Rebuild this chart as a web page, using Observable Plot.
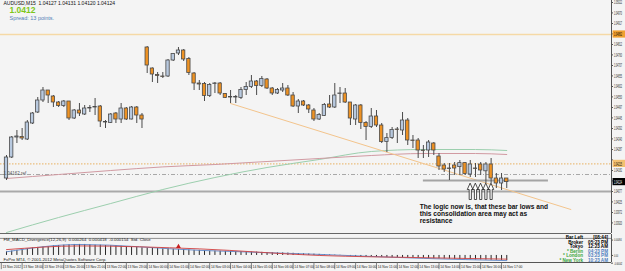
<!DOCTYPE html>
<html><head><meta charset="utf-8">
<script src="https://cdn.jsdelivr.net/npm/d3@7"></script>
<script src="https://cdn.jsdelivr.net/npm/@observablehq/plot@0.6"></script>
<style>
body{margin:0;background:#fff;}
#wrap{position:relative;width:625px;height:271px;overflow:hidden;background:#f4f4f4;font-family:"Liberation Sans",Arial,sans-serif;}
.layer{position:absolute;left:0;}
.clock{position:absolute;font-size:4.6px;line-height:4.6px;text-align:right;white-space:pre;font-weight:bold;}
</style></head><body><div id="wrap"></div>
<script>
// ---- OHLC data, AUDUSD M15, bars 0..96 (13 Nov 17:15 .. 14 Nov 17:15)
const opens  = [1.04142,1.04247,1.04347,1.04350,1.04337,1.04417,1.04472,1.04532,1.04582,1.04552,1.04522,1.04505,1.04527,1.04442,1.04482,1.04462,1.04492,1.04497,1.04502,1.04425,1.04420,1.04467,1.04437,1.04492,1.04437,1.04497,1.04457,1.04797,1.04692,1.04660,1.04652,1.04652,1.04732,1.04767,1.04782,1.04740,1.04667,1.04617,1.04615,1.04555,1.04615,1.04617,1.04565,1.04550,1.04547,1.04545,1.04585,1.04600,1.04627,1.04605,1.04637,1.04592,1.04567,1.04582,1.04592,1.04557,1.04502,1.04527,1.04507,1.04482,1.04437,1.04455,1.04512,1.04497,1.04565,1.04567,1.04522,1.04437,1.04507,1.04420,1.04400,1.04452,1.04407,1.04325,1.04345,1.04387,1.04382,1.04432,1.04332,1.04332,1.04282,1.04282,1.04317,1.04252,1.04207,1.04192,1.04207,1.04199,1.04219,1.04162,1.04192,1.04212,1.04178,1.04212,1.04142,1.04117,1.04142];
const highs  = [1.04257,1.04352,1.04382,1.04392,1.04432,1.04472,1.04547,1.04597,1.04582,1.04557,1.04527,1.04532,1.04527,1.04487,1.04517,1.04507,1.04507,1.04542,1.04507,1.04432,1.04467,1.04472,1.04517,1.04497,1.04502,1.04502,1.04467,1.04802,1.04695,1.04672,1.04672,1.04737,1.04767,1.04797,1.04787,1.04747,1.04672,1.04632,1.04622,1.04617,1.04622,1.04622,1.04567,1.04582,1.04557,1.04597,1.04622,1.04657,1.04632,1.04652,1.04642,1.04597,1.04592,1.04617,1.04607,1.04572,1.04537,1.04532,1.04512,1.04492,1.04467,1.04517,1.04557,1.04617,1.04597,1.04592,1.04522,1.04512,1.04512,1.04427,1.04492,1.04482,1.04417,1.04367,1.04397,1.04397,1.04472,1.04442,1.04357,1.04342,1.04307,1.04332,1.04322,1.04267,1.04217,1.04217,1.04222,1.04232,1.04222,1.04232,1.04217,1.04222,1.04222,1.04242,1.04167,1.04167,1.04142];
const lows   = [1.04132,1.04242,1.04317,1.04332,1.04332,1.04412,1.04467,1.04522,1.04517,1.04497,1.04497,1.04497,1.04432,1.04437,1.04452,1.04457,1.04472,1.04457,1.04397,1.04392,1.04417,1.04417,1.04417,1.04432,1.04435,1.04417,1.04392,1.04667,1.04622,1.04617,1.04642,1.04647,1.04727,1.04757,1.04727,1.04657,1.04582,1.04582,1.04527,1.04547,1.04567,1.04557,1.04542,1.04517,1.04517,1.04537,1.04557,1.04592,1.04557,1.04597,1.04587,1.04557,1.04562,1.04572,1.04552,1.04497,1.04467,1.04502,1.04467,1.04427,1.04432,1.04452,1.04492,1.04492,1.04517,1.04517,1.04407,1.04407,1.04387,1.04332,1.04392,1.04397,1.04317,1.04272,1.04337,1.04317,1.04357,1.04307,1.04292,1.04242,1.04242,1.04247,1.04257,1.04182,1.04172,1.04132,1.04157,1.04157,1.04157,1.04147,1.04147,1.04157,1.04117,1.04117,1.04092,1.04082,1.04092];
const closes = [1.04247,1.04347,1.04352,1.04342,1.04422,1.04467,1.04532,1.04582,1.04557,1.04522,1.04505,1.04527,1.04442,1.04482,1.04467,1.04492,1.04495,1.04500,1.04427,1.04422,1.04462,1.04437,1.04492,1.04437,1.04497,1.04457,1.04437,1.04707,1.04662,1.04655,1.04650,1.04732,1.04765,1.04782,1.04737,1.04670,1.04617,1.04612,1.04555,1.04610,1.04617,1.04567,1.04545,1.04547,1.04550,1.04585,1.04600,1.04627,1.04605,1.04640,1.04592,1.04567,1.04585,1.04592,1.04557,1.04502,1.04527,1.04507,1.04487,1.04437,1.04460,1.04510,1.04497,1.04557,1.04567,1.04522,1.04442,1.04507,1.04420,1.04400,1.04452,1.04407,1.04325,1.04344,1.04385,1.04385,1.04432,1.04332,1.04330,1.04282,1.04280,1.04322,1.04282,1.04202,1.04187,1.04190,1.04192,1.04219,1.04165,1.04212,1.04190,1.04182,1.04212,1.04142,1.04117,1.04142,1.04124];

// moving averages read at sample bars
const maGreenBars = [0,10,20,30,40,50,60,70,80,90,96];
const maGreen     = [1.03872,1.03947,1.04017,1.04087,1.04147,1.04197,1.04237,1.04277,1.04287,1.04287,1.04282];
const maPinkBars  = [0,10,20,30,40,50,60,70,80,90,96];
const maPink      = [1.04142,1.04162,1.04182,1.04200,1.04212,1.04227,1.04242,1.04257,1.04267,1.04267,1.04262];

// horizontal levels / objects
const levelOrange = 1.04862;
const levelOrangeDot = 1.04215;
const levelDashDot = 1.04162;
const levelGray = 1.04077;
const consolidation = {bar1: 80, bar2: 104, price: 1.04132};
const trendBars = [43, 108.3];
const trendPrices = [1.04517, 1.03987];
const arrowBars = [89, 90, 91, 92, 93];
const arrowPrice = 1.04117;

// price axis ticks
const yTicks = [1.03920,1.03972,1.04025,1.04077,1.04130,1.04182,1.04235,1.04287,1.04340,1.04392,1.04445,1.04497,1.04550,1.04602,1.04655,1.04707,1.04760,1.04812,1.04865,1.04917,1.04970,1.05022];
// time axis
const dateTickBars = [-1,3,7,11,15,19,23,27,31,35,39,43,47,51,55,59,63,67,71,75,79,83,87,91,95];
const dateLabels = ["13 Nov 2012","13 Nov 18:00","13 Nov 19:00","13 Nov 20:00","13 Nov 21:00","13 Nov 22:00","13 Nov 23:00","14 Nov 00:00","14 Nov 01:00","14 Nov 02:00","14 Nov 03:00","14 Nov 04:00","14 Nov 05:00","14 Nov 06:00","14 Nov 07:00","14 Nov 08:00","14 Nov 09:00","14 Nov 10:00","14 Nov 11:00","14 Nov 12:00","14 Nov 13:00","14 Nov 14:00","14 Nov 15:00","14 Nov 16:00","14 Nov 17:00"];

// MACD histogram (per bar, 1e-5 units) and line samples
const macdHist = [20,24,28,32,36,40,44,46,48,52,54,56,58,60,60,60,58,56,56,54,52,52,50,48,44,44,42,40,40,38,36,36,34,32,32,30,28,28,26,24,24,23,22,22,21,20,19,18,18,17,16,15,14,14,13,12,10,9,8,7,6,4,3,2,1,0,-4,-5,-6,-7,-8,-9,-10,-11,-12,-12,-13,-14,-15,-15,-16,-17,-18,-18,-19,-20,-21,-22,-22,-23,-24,-24,-25,-26,-26,-27,-28].map(v=>v/1e5);
const macdRedBars  = [0,14,37,60,80,96];
const macdRed      = [32,52,36,0,-12,-20].map(v=>v/1e5);
const macdBlueBars = [0,14,37,60,80,96];
const macdBlue     = [20,60,28,6,-16,-28].map(v=>v/1e5);
const divergenceBars = [33];
const divergenceVals = [0.00048];
const macdAxis = [0.00084, 0, -0.00042];

const texts = {
  header: "AUDUSD,M15  1.04127 1.04131 1.04120 1.04124",
  big: "1.0412",
  spread: "Spread: 13 points.",
  note: "The logic now is, that these bar lows and\nthis consolidation area may act as\nresistance",
  macd: "FM_MACD_Divergence(12,26,9)  0.000264  0.000418  -0.000154  Std. Close",
  copy: "FxPro MT4, © 2001-2012 MetaQuotes Software Corp.",
  ref: "1.04162 ref"
};

// ---------- build
const wrap = document.getElementById("wrap");
const xDom = [-1.15, 116.1];
const xRange = [0, 611];
const pxX = (xDom[1]-xDom[0])/(xRange[1]-xRange[0]);   // bars per pixel
const bars = opens.map((o,i)=>({i, o, h:highs[i], l:lows[i], c:closes[i], up: closes[i] > opens[i]}));
const last = closes[closes.length-1];
const font = "Liberation Sans, Arial, sans-serif";

const hollowArrow = {draw(ctx, l){ const hw=2.6, hh=6, sw=1.1;
  ctx.moveTo(0,-l); ctx.lineTo(hw,-l+hh); ctx.lineTo(sw,-l+hh); ctx.lineTo(sw,0);
  ctx.lineTo(-sw,0); ctx.lineTo(-sw,-l+hh); ctx.lineTo(-hw,-l+hh); ctx.closePath(); }};

const axisLabels = [
  {p: levelOrange, fill:"#f0a030", text:"#000", label: levelOrange.toFixed(5)},
  {p: levelOrangeDot, fill:"#f3c070", text:"#000", label: levelOrangeDot.toFixed(5)},
  {p: last, fill:"#000", text:"#fff", label: last.toFixed(5)}
];
const xEnd = xDom[1];
const tickLabels = yTicks.filter(t => axisLabels.every(a => Math.abs(a.p - t) > 0.00025));
// the price strip is narrow: squeeze its labels horizontally so they stay inside the picture
const squeeze = (svg, k) => svg.querySelectorAll("g.plab text").forEach(t => {
  const tr = t.getAttribute("transform") || "";
  t.setAttribute("transform", tr + ` scale(${k},1)`);
});

const main = Plot.plot({
  width: 625, height: 234,
  marginLeft: 0, marginRight: 14, marginTop: 0, marginBottom: 1,
  x: {type: "linear", domain: xDom, range: xRange, axis: null},
  y: {type: "linear", domain: [1.03867, 1.05032], range: [233, 0], axis: null},
  style: {background: "transparent", fontFamily: font, overflow: "visible"},
  marks: [
    Plot.ruleY([levelOrange], {stroke: "#f5d9a6", strokeWidth: 1.6}),
    Plot.ruleY([levelOrangeDot], {stroke: "#e8b060", strokeWidth: 1, strokeDasharray: "1.5,1.5"}),
    Plot.ruleY([levelDashDot], {stroke: "#a8a8a8", strokeWidth: 1, strokeDasharray: "4,2,1,2"}),
    Plot.ruleY([levelGray], {stroke: "#a9a9a9", strokeWidth: 1.8}),
    Plot.line(maGreenBars.map((b,k)=>({b, p: maGreen[k]})), {x:"b", y:"p", curve:"monotone-x", stroke:"#9ccfae", strokeWidth:1}),
    Plot.line(maPinkBars.map((b,k)=>({b, p: maPink[k]})), {x:"b", y:"p", curve:"monotone-x", stroke:"#d19aa2", strokeWidth:1}),
    Plot.line(trendBars.map((b,k)=>({b, p: trendPrices[k]})), {x:"b", y:"p", stroke:"#f3c48c", strokeWidth:1}),
    Plot.ruleY([consolidation], {x1:"bar1", x2:"bar2", y:"price", stroke:"#a4a4a4", strokeWidth:1.8}),
    Plot.ruleX(bars, {x:"i", y1:"l", y2:"h", stroke:"#4a4a4a", strokeWidth:1}),
    Plot.rect(bars, {x1: d=>d.i-0.32, x2: d=>d.i+0.32, y1:"o", y2:"c", fill: d=>d.up ? "#b8c9df" : "#ee9223", stroke:"#4a4a4a", strokeWidth:0.8}),
    Plot.vector(arrowBars.map(b=>({b})), {x:"b", y:()=>arrowPrice, length:16, anchor:"end", rotate:0, shape: hollowArrow, fill:"#fff", stroke:"#222", strokeWidth:0.8}),
    Plot.text([texts.ref], {x: xDom[0], y: levelDashDot, text: d=>d, textAnchor:"start", dx: 3, dy: -1, fontSize: 4.5, fill:"#555"}),
    Plot.text([texts.note], {x: 79.3, y: 1.04012, text: d=>d, textAnchor:"start", lineAnchor:"top", lineHeight: 1.05, fontSize: 6.6, fontWeight:"bold", fill:"#111"}),
    // chart bottom border and price axis
    Plot.ruleY([1.03867], {stroke:"#666", strokeWidth:1}),
    Plot.ruleX([xEnd], {stroke:"#555", strokeWidth:1}),
    Plot.ruleY(yTicks, {x1: xEnd, x2: xEnd + 2*pxX, stroke:"#555", strokeWidth: 1}),
    Plot.text(tickLabels, {x: xEnd, y: d=>d, text: d=>d.toFixed(5), textAnchor:"start", dx: 2.5, fontSize: 5, fill:"#222", className:"plab"}),
    Plot.rect(axisLabels, {x1: xEnd + 0.3, x2: xEnd + 5, y1: d=>d.p - 0.00018, y2: d=>d.p + 0.00018, fill:"fill"}),
    Plot.text(axisLabels, {x: xEnd, y:"p", text:"label", textAnchor:"start", dx: 2.5, fontSize: 5, fill:"text", className:"plab"}),
    // header
    Plot.text([texts.header], {frameAnchor:"top-left", dx: 3, dy: 1, text:d=>d, fontSize: 5, fill:"#111"}),
    Plot.text([texts.big], {frameAnchor:"top-left", dx: 9, dy: 6.5, text:d=>d, fontSize: 8.5, fontWeight:"bold", fill:"#7cc71a"}),
    Plot.text([texts.spread], {frameAnchor:"top-left", dx: 9, dy: 16, text:d=>d, fontSize: 5.5, fill:"#4f7fb8"})
  ]
});
main.classList.add("layer"); main.style.top = "0px";
squeeze(main, 0.44);
wrap.appendChild(main);

// MACD sub-window
const macdBars = macdHist.map((v,i)=>({i, v}));
const macdPlot = Plot.plot({
  width: 625, height: 28,
  marginLeft: 0, marginRight: 14, marginTop: 0, marginBottom: 0,
  x: {type: "linear", domain: xDom, range: xRange, axis: null},
  y: {type: "linear", domain: [-0.0004, 0.0008], range: [28.3, 6.3], axis: null},
  style: {background: "transparent", fontFamily: font, overflow: "visible"},
  marks: [
    Plot.ruleY([0.00093], {stroke:"#777", strokeWidth: 0.8}),
    Plot.ruleX(macdBars, {x:"i", y1: 0, y2:"v", stroke:"#111", strokeWidth: 0.9}),
    Plot.line(macdBlueBars.map((b,k)=>({b, v: macdBlue[k]})), {x:"b", y:"v", curve:"monotone-x", stroke:"#5a86c8", strokeWidth: 0.9}),
    Plot.line(macdRedBars.map((b,k)=>({b, v: macdRed[k]})), {x:"b", y:"v", curve:"monotone-x", stroke:"#d04040", strokeWidth: 0.9}),
    Plot.dot(divergenceBars.map((b,k)=>({b, v: divergenceVals[k]})), {x:"b", y:"v", symbol:"triangle", r: 1.8, fill:"#c82020", stroke:"none"}),
    Plot.ruleX([xEnd], {stroke:"#555"}),
    Plot.ruleY(macdAxis, {x1: xEnd, x2: xEnd + 2*pxX, stroke:"#555"}),
    Plot.text(macdAxis, {x: xEnd, y: d=>d, text: d=>d === 0 ? "0.00" : d.toFixed(5), textAnchor:"start", dx: 2.5, fontSize: 4.2, fill:"#222", className:"plab"}),
    Plot.text([texts.macd], {frameAnchor:"top-left", dx: 3, dy: 3.5, text:d=>d, fontSize: 4.3, fill:"#222"}),
    Plot.text([texts.copy], {frameAnchor:"bottom-left", dx: 3, dy: -2, text:d=>d, fontSize: 4.3, fill:"#222"})
  ]
});
macdPlot.classList.add("layer"); macdPlot.style.top = "234px";
squeeze(macdPlot, 0.5);
wrap.appendChild(macdPlot);

// time axis
const timePlot = Plot.plot({
  width: 625, height: 9,
  marginLeft: 0, marginRight: 14, marginTop: 0, marginBottom: 0,
  x: {type: "linear", domain: xDom, range: xRange, axis: null},
  y: {type: "linear", domain: [0,1], range:[0,9], axis: null},
  style: {background: "transparent", fontFamily: font, overflow: "visible"},
  marks: [
    Plot.ruleY([0], {stroke:"#555"}),
    Plot.ruleX(dateTickBars, {y1: 0, y2: 0.8, stroke:"#666", strokeWidth: 0.8}),
    Plot.text(dateTickBars, {x: d=>d, y: 0.52, text: (d,k)=>dateLabels[k], textAnchor:"start", dx: 1.2, fontSize: 3.3, fill:"#222"})
  ]
});
timePlot.classList.add("layer"); timePlot.style.top = "262px";
wrap.appendChild(timePlot);

// clock panel
const clock = [
  ["Bar Left", "[08:44]", "#000", "#000"],
  ["Broker", "05:23 PM", "#000", "#000"],
  ["Tokyo", "12:23 AM", "#000", "#000"],
  ["* Berlin", "04:23 PM", "#3aa53a", "#4d7fc0"],
  ["* London", "03:23 PM", "#3aa53a", "#4d7fc0"],
  ["* New York", "10:23 AM", "#3aa53a", "#4d7fc0"]
];
const c1 = document.createElement("div"); c1.className = "clock";
c1.style.left = "540px"; c1.style.top = "236px"; c1.style.width = "43px";
const c2 = document.createElement("div"); c2.className = "clock";
c2.style.left = "585px"; c2.style.top = "236px"; c2.style.width = "23px";
clock.forEach(r=>{
  const a = document.createElement("div"); a.textContent = r[0]; a.style.color = r[2]; c1.appendChild(a);
  const b = document.createElement("div"); b.textContent = r[1]; b.style.color = r[3]; c2.appendChild(b);
});
wrap.appendChild(c1); wrap.appendChild(c2);
</script>
</body></html>
